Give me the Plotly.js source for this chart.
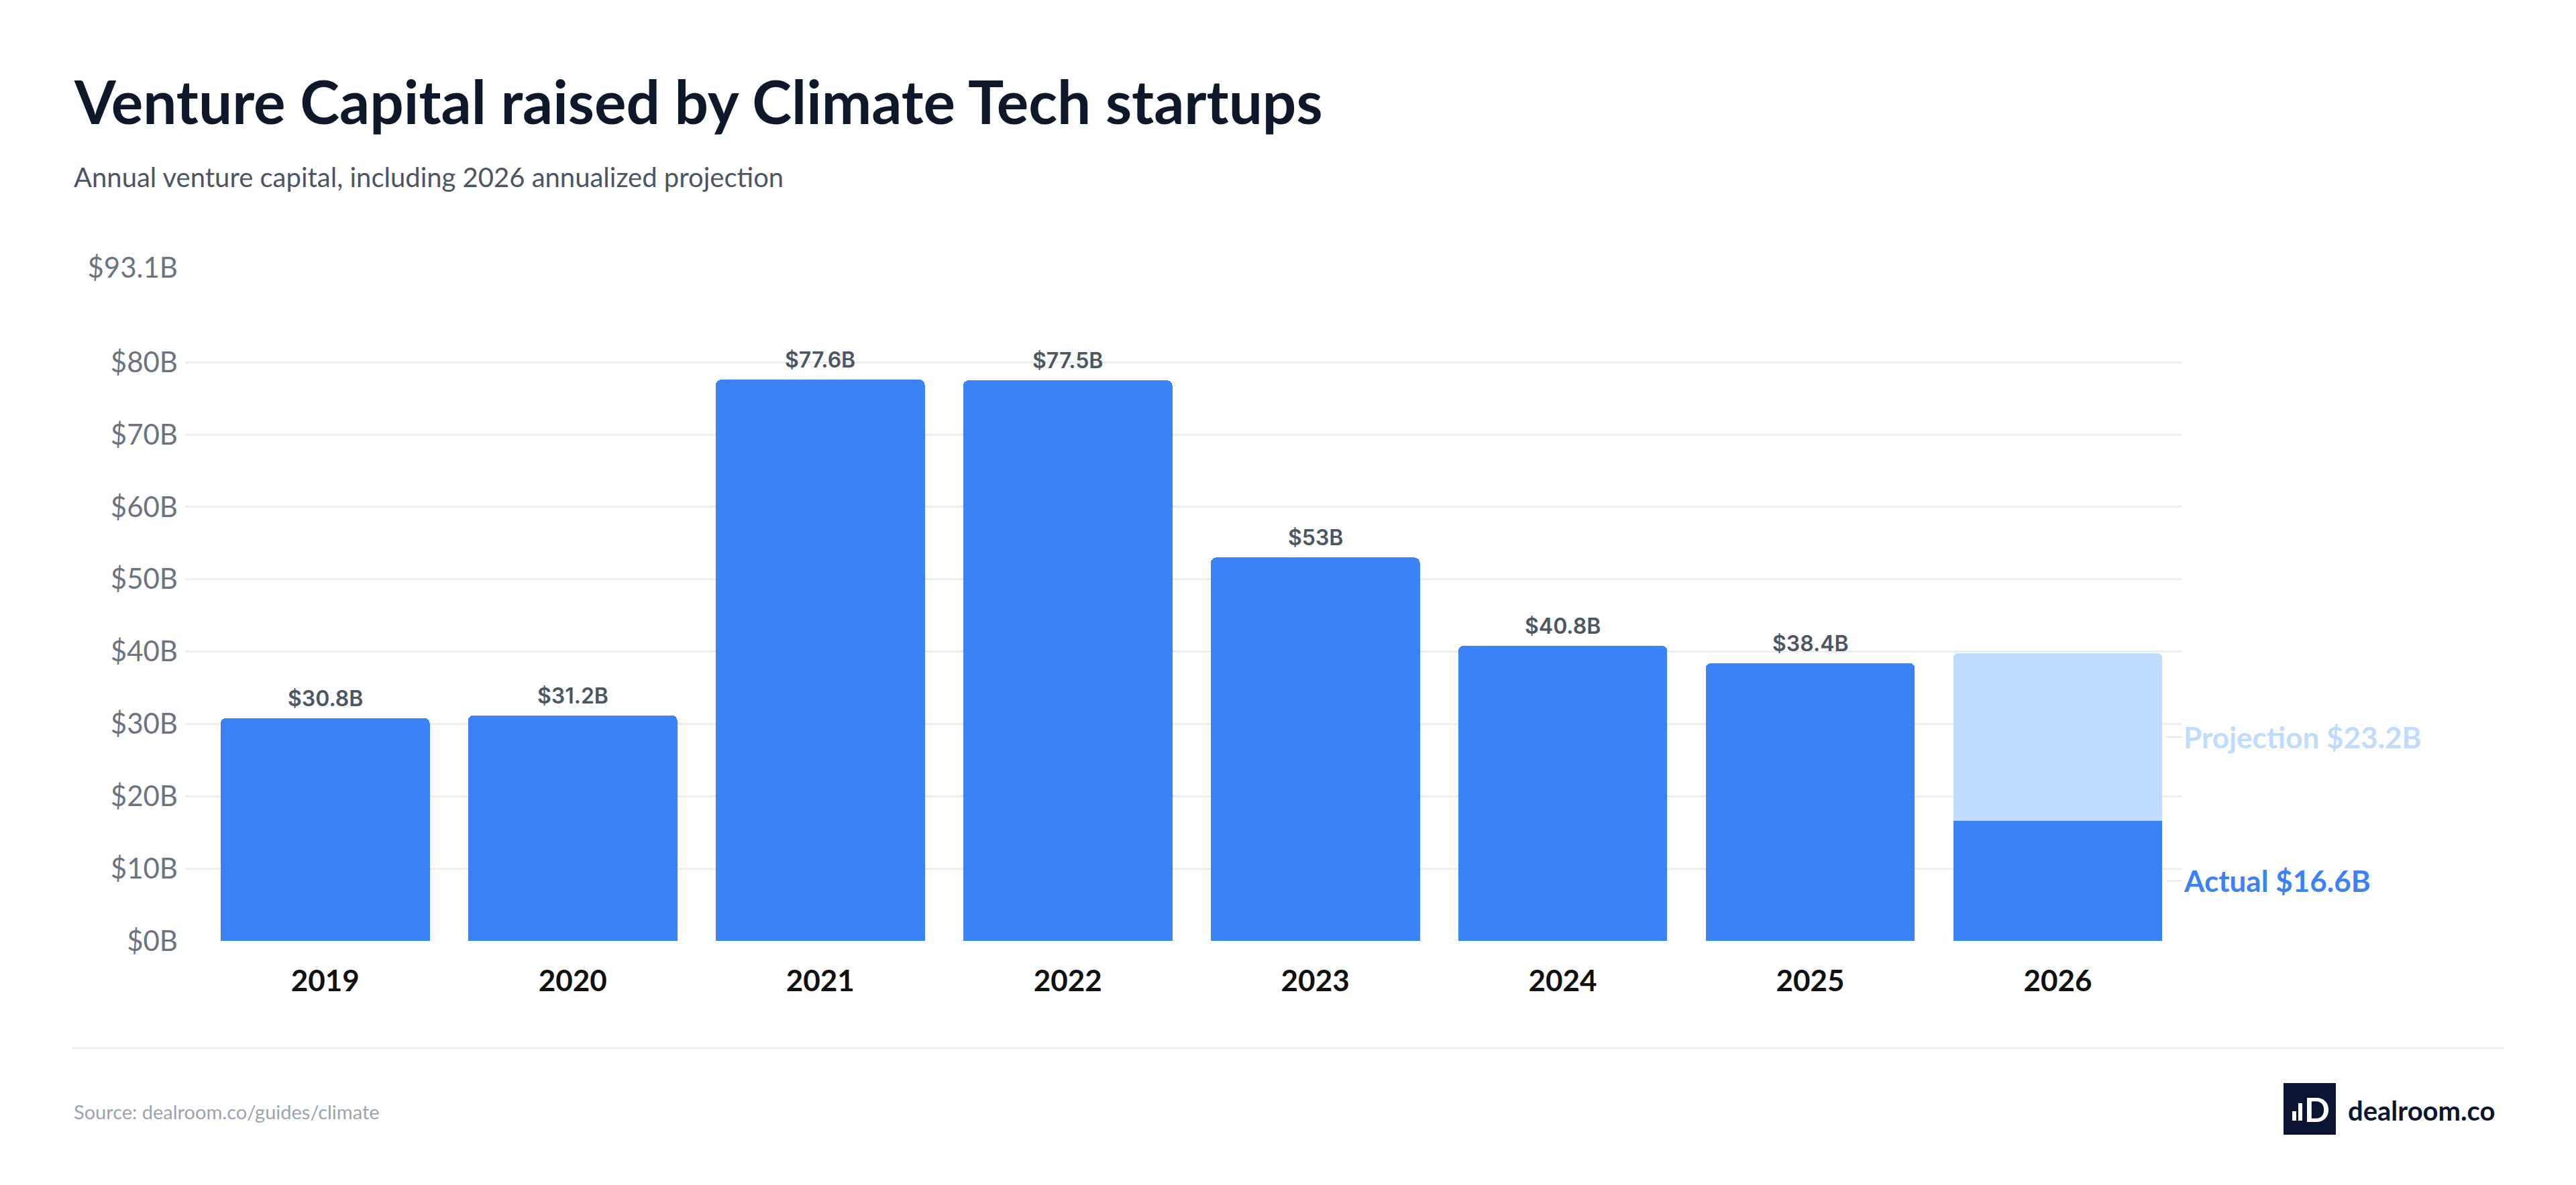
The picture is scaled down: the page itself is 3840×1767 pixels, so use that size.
<!DOCTYPE html>
<html>
<head>
<meta charset="utf-8">
<script src="https://cdn.plot.ly/plotly-3.0.1.min.js"></script>
<style>
  html, body { margin: 0; padding: 0; background: #ffffff; overflow: hidden; }
  #chart { width: 3840px; height: 1767px; }
</style>
</head>
<body>
<div id="chart"></div>
<script>
// Venture capital raised by climate tech startups, $B per year.
const years = ['2019', '2020', '2021', '2022', '2023', '2024', '2025', '2026'];
const raised = [30.8, 31.2, 77.6, 77.5, 53.0, 40.8, 38.4, 16.6];   // 2026 = actual to date
const projectionYears = ['2026'];
const projection = [23.2];                                          // annualized remainder
const yTickVals = [0, 10, 20, 30, 40, 50, 60, 70, 80, 93.1];

const BLUE = '#3b82f6';
const LIGHT = '#bfdbfe';
const SANS = 'Lato, "Noto Sans", sans-serif';

// plot area in px (used to place the text around it)
const M = { l: 276, r: 588, t: 399, b: 364 };
const W = 3840, H = 1767;
const plotW = W - M.l - M.r, plotH = H - M.t - M.b;
const px = x => (x - M.l) / plotW;
const py = y => (H - M.b - y) / plotH;

const fmt = v => '$' + (Math.round(v * 10) / 10) + 'B';

const traces = [
    {
        type: 'bar',
        name: 'Actual',
        x: years,
        y: raised,
        marker: { color: BLUE },
        hoverinfo: 'skip',
    },
    {
        type: 'bar',
        name: 'Projection',
        x: projectionYears,
        y: projection,
        marker: { color: LIGHT },
        hoverinfo: 'skip',
    },
];

const last = raised[raised.length - 1];
const annotations = [
    // title block
    { text: '<b>Venture Capital raised by Climate Tech startups</b>', x: px(108), y: py(150),
      font: { family: SANS, size: 89, color: '#0f172a' } },
    { text: 'Annual venture capital, including 2026 annualized projection', x: px(108), y: py(264),
      font: { family: SANS, size: 40, color: '#4b5563' } },
    { text: 'Source: dealroom.co/guides/climate', x: px(108), y: py(1657),
      font: { family: SANS, size: 29, color: '#9ca3af' } },
    // logo word mark
    { text: '<b>dealroom.co</b>', x: px(3498), y: py(1656),
      font: { family: SANS, size: 40, color: '#0b1533' } },
    { text: '<b>D</b>', x: px(3433), y: py(1654),
      font: { family: SANS, size: 50, color: '#ffffff' } },
].map(a => ({ ...a, xref: 'paper', yref: 'paper', xanchor: 'left', yanchor: 'middle', showarrow: false }));

// value labels above the bars (2026 is labelled at the side instead)
years.forEach((yr, i) => {
    if (yr === '2026') return;
    annotations.push({
        text: fmt(raised[i]), xref: 'x', yref: 'y', x: i, y: raised[i],
        xanchor: 'center', yanchor: 'bottom', yshift: 8, showarrow: false,
        font: { family: 'Inter, sans-serif', size: 32, color: '#4b5563', weight: 600 },
    });
});

// 2026 split labels, at the middle of each segment
[
    { text: '<b>Projection ' + fmt(projection[0]) + '</b>', y: last + projection[0] / 2, color: LIGHT },
    { text: '<b>Actual ' + fmt(last) + '</b>', y: last / 2, color: BLUE },
].forEach(a => annotations.push({
    text: a.text, xref: 'x', yref: 'y', x: 7.442, y: a.y,
    showarrow: true, arrowhead: 0, arrowwidth: 2, arrowcolor: '#dde6f3', standoff: 0,
    ax: 22, ay: 0, xanchor: 'left', yanchor: 'middle',
    font: { family: SANS, size: 44, color: a.color },
}));

const shapes = [
    { type: 'line', xref: 'paper', yref: 'paper', x0: px(108), x1: px(3732), y0: py(1563), y1: py(1563),
      line: { color: '#eeeeee', width: 3 } },
    { type: 'rect', xref: 'paper', yref: 'paper', x0: px(3404), x1: px(3482), y0: py(1615), y1: py(1692),
      fillcolor: '#0b1533', line: { width: 0 } },
    { type: 'rect', xref: 'paper', yref: 'paper', x0: px(3417), x1: px(3423), y0: py(1657), y1: py(1671),
      fillcolor: '#ffffff', line: { width: 0 } },
    { type: 'rect', xref: 'paper', yref: 'paper', x0: px(3426), x1: px(3432), y0: py(1645), y1: py(1671),
      fillcolor: '#ffffff', line: { width: 0 } },
];

const layout = {
    width: W, height: H,
    margin: M,
    paper_bgcolor: '#ffffff',
    plot_bgcolor: '#ffffff',
    barmode: 'stack',
    bargap: 0.155,
    barcornerradius: 8,
    showlegend: false,
    hovermode: false,
    font: { family: SANS },
    xaxis: {
        type: 'category',
        range: [-0.566, 7.5],
        showgrid: false, zeroline: false, showline: false, ticks: '',
        ticklabelstandoff: 30,
        tickfont: { family: SANS, size: 44, color: '#111111', weight: 700 },
    },
    yaxis: {
        range: [0, 93.1],
        tickvals: yTickVals,
        ticktext: yTickVals.map(fmt),
        gridcolor: '#ededed', gridwidth: 3,
        zeroline: false, showline: false, ticks: '',
        ticklabelstandoff: 10,
        tickfont: { family: SANS, size: 42, color: '#6b7280' },
    },
    annotations,
    shapes,
};

Plotly.newPlot('chart', traces, layout, { displayModeBar: false, staticPlot: true });
</script>
</body>
</html>
